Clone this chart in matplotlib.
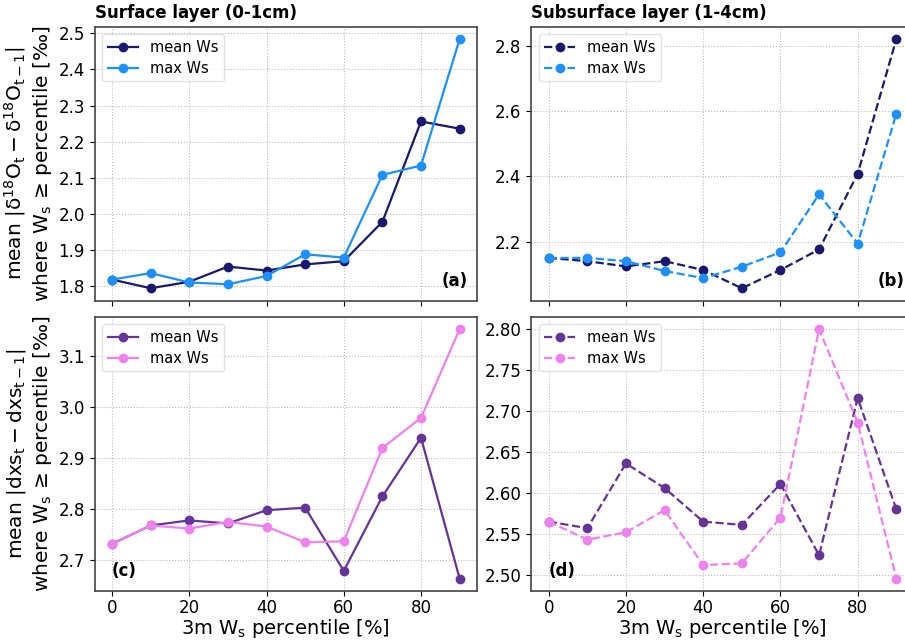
import matplotlib
matplotlib.use("Agg")
import matplotlib.pyplot as plt

plt.rcParams['font.family'] = ['DejaVu Sans']
plt.rcParams['mathtext.default'] = 'regular'

percentiles = [0, 10, 20, 30, 40, 50, 60, 70, 80, 90]

d18o_surf_mean = [1.818, 1.794, 1.812, 1.854, 1.843, 1.860, 1.869, 1.978, 2.256, 2.236]
d18o_surf_max = [1.818, 1.836, 1.810, 1.805, 1.828, 1.888, 1.879, 2.108, 2.134, 2.484]
d18o_sub_mean = [2.150, 2.140, 2.124, 2.140, 2.113, 2.057, 2.113, 2.176, 2.408, 2.821]
d18o_sub_max = [2.150, 2.150, 2.140, 2.110, 2.088, 2.123, 2.167, 2.345, 2.194, 2.592]
dxs_surf_mean = [2.731, 2.767, 2.777, 2.771, 2.797, 2.802, 2.678, 2.824, 2.939, 2.663]
dxs_surf_max = [2.731, 2.767, 2.761, 2.774, 2.765, 2.734, 2.736, 2.919, 2.978, 3.152]
dxs_sub_mean = [2.565, 2.557, 2.636, 2.606, 2.565, 2.561, 2.611, 2.524, 2.716, 2.580]
dxs_sub_max = [2.565, 2.543, 2.552, 2.579, 2.512, 2.514, 2.570, 2.800, 2.686, 2.4955]

series_labels = ["mean Ws", "max Ws"]
titles = ["Surface layer (0-1cm)", "Subsurface layer (1-4cm)"]
panel_labels = ["(a)", "(b)", "(c)", "(d)"]
ylabel_top = "mean $|\\delta^{18}O_t - \\delta^{18}O_{t-1}|$\nwhere $W_s$ ≥ percentile [‰]"
ylabel_bot = "mean $|dxs_t - dxs_{t-1}|$\nwhere $W_s$ ≥ percentile [‰]"
xlabel = "3m $W_s$ percentile [%]"

W, H = 905, 643
fig = plt.figure(figsize=(W / 100, H / 100), dpi=100)

def pos(l, r, t, b):
    return [l / W, 1 - b / H, (r - l) / W, (b - t) / H]

ax_a = fig.add_axes(pos(94.7, 477, 26.7, 300.7))
ax_c = fig.add_axes(pos(94.7, 477, 316.7, 591), sharex=ax_a)
ax_b = fig.add_axes(pos(531.3, 913.7, 26.7, 300.7))
ax_d = fig.add_axes(pos(531.3, 913.7, 316.7, 591), sharex=ax_b)

blue_cols = ["#191970", "#1E90FF"]
purple_cols = ["#663399", "#EE82EE"]

specs = [
    (ax_a, d18o_surf_mean, d18o_surf_max, blue_cols, '-', panel_labels[0], 'right'),
    (ax_b, d18o_sub_mean, d18o_sub_max, blue_cols, '--', panel_labels[1], 'right'),
    (ax_c, dxs_surf_mean, dxs_surf_max, purple_cols, '-', panel_labels[2], 'left'),
    (ax_d, dxs_sub_mean, dxs_sub_max, purple_cols, '--', panel_labels[3], 'left'),
]

for ax, ymean, ymax, cols, ls, plab, side in specs:
    ax.plot(percentiles, ymean, ls, marker='o', color=cols[0], lw=1.6, ms=6, label=series_labels[0])
    ax.plot(percentiles, ymax, ls, marker='o', color=cols[1], lw=1.6, ms=6, label=series_labels[1])
    ax.grid(True, linestyle=':', color='#bbbbbb', linewidth=0.8)
    ax.tick_params(labelsize=12)
    for s in ax.spines.values():
        s.set_color('#444444')
        s.set_linewidth(1.2)
    ax.legend(loc='upper left', fontsize=10.5, framealpha=0.8, edgecolor='#dddddd',
              handlelength=2.1, handletextpad=0.8, labelspacing=0.4)
    if side == 'right':
        ax.text(0.975, 0.04, plab, transform=ax.transAxes, ha='right', va='bottom',
                fontsize=12, fontweight='bold')
    else:
        ax.text(0.045, 0.04, plab, transform=ax.transAxes, ha='left', va='bottom',
                fontsize=12, fontweight='bold')

ax_a.tick_params(labelbottom=False)
ax_b.tick_params(labelbottom=False)
ax_a.set_title(titles[0], loc='left', fontsize=12, fontweight='bold', pad=6)
ax_b.set_title(titles[1], loc='left', fontsize=12, fontweight='bold', pad=6)
ax_a.set_ylabel(ylabel_top, fontsize=14.5, labelpad=3)
ax_c.set_ylabel(ylabel_bot, fontsize=14.5, labelpad=3)
ax_c.set_xlabel(xlabel, fontsize=14, labelpad=0)
ax_d.set_xlabel(xlabel, fontsize=14, labelpad=0)
ax_c.set_xticks([0, 20, 40, 60, 80])
ax_d.set_xticks([0, 20, 40, 60, 80])
ax_c.tick_params(axis='x', pad=2.5)
ax_d.tick_params(axis='x', pad=2.5)
ax_d.yaxis.set_major_formatter(matplotlib.ticker.FormatStrFormatter('%.2f'))

fig.savefig("out.png", dpi=100)
